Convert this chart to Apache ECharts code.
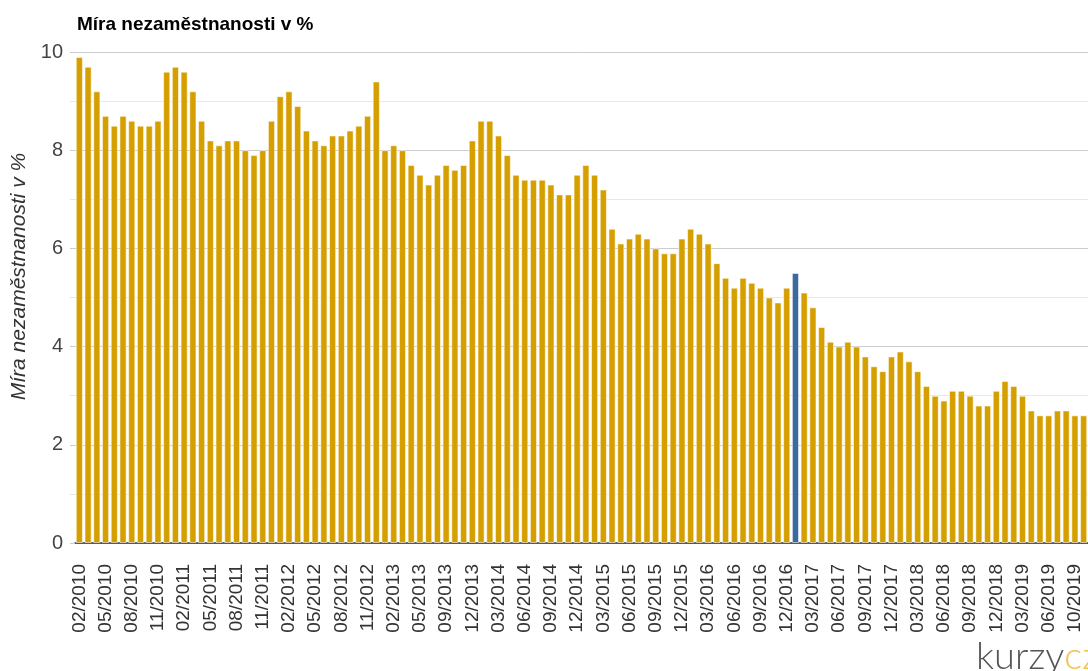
<!DOCTYPE html>
<html>
<head>
<meta charset="utf-8">
<script src="https://cdn.jsdelivr.net/npm/echarts@6/dist/echarts.min.js"></script>
<style>
html,body{margin:0;padding:0;background:#fff;}
#chart{width:1088px;height:671px;}
</style>
</head>
<body>
<div id="chart"></div>
<script>
var titleText = 'Míra nezaměstnanosti v %';
var yAxisName = 'Míra nezaměstnanosti v %';

var months = [
 '02/2010','03/2010','04/2010','05/2010','06/2010','07/2010','08/2010','09/2010','10/2010','11/2010','12/2010',
 '01/2011','02/2011','03/2011','04/2011','05/2011','06/2011','07/2011','08/2011','09/2011','10/2011','11/2011','12/2011',
 '01/2012','02/2012','03/2012','04/2012','05/2012','06/2012','07/2012','08/2012','09/2012','10/2012','11/2012','12/2012',
 '01/2013','02/2013','03/2013','04/2013','05/2013','06/2013','07/2013','09/2013','10/2013','11/2013','12/2013',
 '01/2014','02/2014','03/2014','04/2014','05/2014','06/2014','07/2014','08/2014','09/2014','10/2014','11/2014','12/2014',
 '01/2015','02/2015','03/2015','04/2015','05/2015','06/2015','07/2015','08/2015','09/2015','10/2015','11/2015','12/2015',
 '01/2016','02/2016','03/2016','04/2016','05/2016','06/2016','07/2016','08/2016','09/2016','10/2016','11/2016','12/2016',
 '01/2017','02/2017','03/2017','04/2017','05/2017','06/2017','07/2017','08/2017','09/2017','10/2017','11/2017','12/2017',
 '01/2018','02/2018','03/2018','04/2018','05/2018','06/2018','07/2018','08/2018','09/2018','10/2018','11/2018','12/2018',
 '01/2019','02/2019','03/2019','04/2019','05/2019','06/2019','07/2019','08/2019','10/2019','11/2019'
];

var unemployment = [
 9.9,9.7,9.2,8.7,8.5,8.7,8.6,8.5,8.5,8.6,9.6,
 9.7,9.6,9.2,8.6,8.2,8.1,8.2,8.2,8.0,7.9,8.0,8.6,
 9.1,9.2,8.9,8.4,8.2,8.1,8.3,8.3,8.4,8.5,8.7,9.4,
 8.0,8.1,8.0,7.7,7.5,7.3,7.5,7.7,7.6,7.7,8.2,
 8.6,8.6,8.3,7.9,7.5,7.4,7.4,7.4,7.3,7.1,7.1,7.5,
 7.7,7.5,7.2,6.4,6.1,6.2,6.3,6.2,6.0,5.9,5.9,6.2,
 6.4,6.3,6.1,5.7,5.4,5.2,5.4,5.3,5.2,5.0,4.9,5.2,
 5.5,5.1,4.8,4.4,4.1,4.0,4.1,4.0,3.8,3.6,3.5,3.8,
 3.9,3.7,3.5,3.2,3.0,2.9,3.1,3.1,3.0,2.8,2.8,3.1,
 3.3,3.2,3.0,2.7,2.6,2.6,2.7,2.7,2.6,2.6
];

var highlightMonth = '01/2017';
var barColor = '#d69f00';
var highlightColor = '#3b6b9e';

var seriesData = unemployment.map(function (v, i) {
  if (months[i] === highlightMonth) {
    return { value: v, itemStyle: { color: highlightColor } };
  }
  return v;
});

var chart = echarts.init(document.getElementById('chart'), null, { renderer: 'canvas' });
var font = "'Liberation Sans', Arial, sans-serif";
chart.setOption({
  animation: false,
  backgroundColor: '#ffffff',
  title: {
    text: titleText,
    left: 72,
    top: 10,
    textStyle: { fontFamily: font, fontSize: 19, fontWeight: 'bold', color: '#000' }
  },
  grid: { left: 75, right: 0, top: 52, bottom: 128, containLabel: false },
  xAxis: {
    type: 'category',
    data: months,
    axisLine: { show: true, lineStyle: { color: '#333', width: 1.5 } },
    axisTick: { show: false },
    axisLabel: {
      interval: 2,
      rotate: 90,
      margin: 21,
      fontFamily: font,
      fontSize: 19,
      color: '#333'
    }
  },
  yAxis: {
    type: 'value',
    min: 0,
    max: 10,
    interval: 2,
    name: yAxisName,
    nameLocation: 'middle',
    nameRotate: 90,
    nameGap: 45,
    nameTextStyle: { fontFamily: font, fontSize: 21, fontStyle: 'italic', color: '#333', padding: [0, 0, 0, 42] },
    axisLine: { show: false },
    axisTick: { show: true, length: 5, lineStyle: { color: '#ccc' } },
    minorTick: { show: true, splitNumber: 2, length: 5, lineStyle: { color: '#e6e6e6' } },
    splitLine: { show: true, lineStyle: { color: '#cccccc', width: 1 } },
    minorSplitLine: { show: true, lineStyle: { color: '#e8e8e8', width: 1 } },
    axisLabel: { margin: 12, fontFamily: font, fontSize: 20, color: '#444' }
  },
  graphic: [{
    type: 'text',
    left: 976,
    top: 638,
    style: {
      text: '{a|kurzy}{b|cz}',
      rich: {
        a: { fontFamily: "Lato, 'DejaVu Sans', sans-serif", fontWeight: 300, fontSize: 38, fill: '#555' },
        b: { fontFamily: "Lato, 'DejaVu Sans', sans-serif", fontWeight: 300, fontSize: 38, fill: '#f2c14e' }
      }
    }
  }],
  series: [{
    type: 'bar',
    data: seriesData,
    barCategoryGap: '18%',
    itemStyle: { color: barColor, borderColor: 'rgba(255,255,255,0.55)', borderWidth: 1 }
  }]
});
</script>
</body>
</html>
